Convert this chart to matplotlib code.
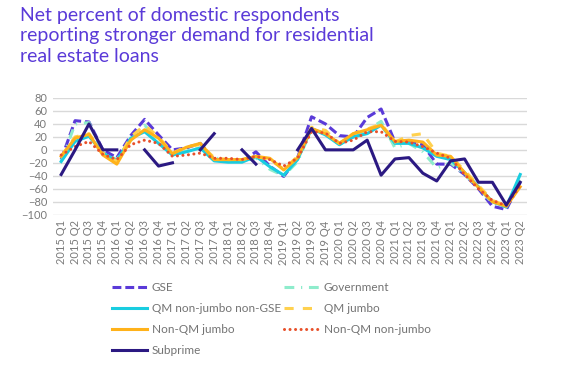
import numpy as np
import matplotlib
matplotlib.use("Agg")
import matplotlib.pyplot as plt

plt.rcParams['font.family'] = ['Lato', 'DejaVu Sans']

quarters = [f"{y} Q{q}" for y in range(2015, 2024) for q in range(1, 5)][:34]
nan = np.nan

gse = [-15, 45, 43, 0, -12, 22, 47, 23, 0, 3, 10, -15, -17, -18, -3, -25, -41, -12,
       51, 40, 22, 20, 50, 63, 12, 13, 8, -22, -22, -38, -60, -87, -92, -50]
government = [-18, 40, 42, -5, -15, 15, 38, 15, -8, -2, 3, -12, -17, -18, -12, -30, -40, -18,
              32, 25, 8, 20, 30, 44, 3, 10, -3, -28, -20, -38, -58, -82, -88, -42]
qm_nonjumbo_nongse = [-18, 13, 21, -5, -17, 18, 28, 10, -8, -3, 3, -17, -19, -19, -10, -26, -39, -15,
                      33, 23, 8, 20, 25, 38, 10, 10, 3, -10, -15, -35, -57, -80, -88, -38]
qm_jumbo = [-10, 20, 25, -5, -18, 20, 38, 20, -5, 5, 8, -12, -15, -15, -10, -15, -30, -10,
            35, 30, 10, 25, 32, 40, 12, 22, 25, -5, -10, -32, -55, -78, -86, -55]
nonqm_jumbo = [-10, 18, 24, -8, -22, 15, 31, 18, -6, 4, 10, -15, -15, -15, -10, -13, -31, -12,
               33, 25, 10, 25, 31, 38, 13, 15, 12, -8, -10, -35, -58, -80, -87, -57]
nonqm_nonjumbo = [-8, 5, 13, -7, -15, 8, 15, 10, -10, -8, -5, -13, -13, -15, -10, -15, -25, -13,
                  28, 26, 10, 15, 28, 28, 13, 12, 5, -5, -13, -38, -60, -78, -86, -55]
subprime = [-38, 0, 40, 0, 0, nan, 0, -25, -20, nan, 0, 25, nan, 0, -22, nan, nan, 0,
            33, 0, 0, 0, 15, -39, -14, -12, -36, -48, -17, -14, -50, -50, -85, -50]

x = np.arange(len(quarters))

fig = plt.figure(figsize=(5.62, 3.67), dpi=100)
ax = fig.add_axes([0.094, 0.415, 0.844, 0.318])

lw = 2.2
l = ax.plot(x, gse, color='#5a3ad8', lw=lw, label='GSE')[0]
l.set_dashes((2.9, 1.3))
l = ax.plot(x, government, color='#8eeccc', lw=lw, label='Government')[0]
l.set_dashes((3.2, 2.2, 0.4, 2.2))
ax.plot(x, qm_nonjumbo_nongse, color='#19cde0', lw=lw, label='QM non-jumbo non-GSE')
l = ax.plot(x, qm_jumbo, color='#ffd14f', lw=lw, label='QM jumbo')[0]
l.set_dashes((3, 3))
ax.plot(x, nonqm_jumbo, color='#ffb21a', lw=lw, label='Non-QM jumbo')
l = ax.plot(x, nonqm_nonjumbo, color='#e8502a', lw=lw, label='Non-QM non-jumbo',
            dash_capstyle='round')[0]
l.set_dashes((0.01, 1.8))
ax.plot(x, subprime, color='#2b1982', lw=lw, label='Subprime')

ax.set_ylim(-100, 80)
ax.set_xlim(-0.6, 33.5)
ax.set_yticks(range(-100, 81, 20))
ax.set_xticks(x)
ax.set_xticklabels(quarters, rotation=90)
ax.tick_params(length=0, labelsize=8, colors='#7a7a7a', pad=4)
ax.grid(axis='y', color='#d9d9d9', lw=1)
ax.set_axisbelow(True)
for s in ax.spines.values():
    s.set_visible(False)

fig.text(0.036, 0.98, "Net percent of domestic respondents\nreporting stronger demand for residential\nreal estate loans",
         ha='left', va='top', fontsize=14, color='#5a3ad8', linespacing=1.22)

h, lab = ax.get_legend_handles_labels()
order = [0, 2, 4, 6, 1, 3, 5]
leg = fig.legend([h[i] for i in order], [lab[i] for i in order], ncol=2,
                 loc='upper left', bbox_to_anchor=(0.19, 0.245), frameon=False,
                 fontsize=8.5, handlelength=3.0, handletextpad=0.4, columnspacing=0.25,
                 labelspacing=0.85, borderaxespad=0)
for t in leg.get_texts():
    t.set_color('#737373')

fig.savefig('out.png', dpi=100)
